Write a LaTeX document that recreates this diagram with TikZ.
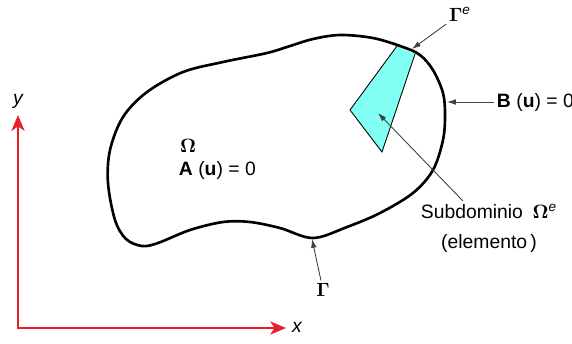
\documentclass[tikz,border=0pt]{standalone}
\usepackage[no-math]{fontspec}
\setmainfont{Liberation Sans}
\usetikzlibrary{arrows.meta}
\definecolor{axisred}{RGB}{232,32,44}
\definecolor{elemcyan}{RGB}{128,255,242}
\tikzset{
  lbl/.style = {font = \fontsize{11}{17}\selectfont, inner sep = 1.5pt},
  pointer/.style = {black!75, line width = 0.5pt, -{Latex[length = 5pt, width = 3.2pt]}},
  axis/.style = {axisred, line width = 1.1pt, {Stealth[length = 9pt, width = 7.5pt, inset = 2.5pt]}-{Stealth[length = 9pt, width = 7.5pt, inset = 2.5pt]}}
}
\begin{document}
\begin{tikzpicture} [x = 0.02cm, y = -0.02cm]
\useasboundingbox (0,0) rectangle (572,343);
%\draw [opacity = 0.2, gray, step = 50] (0,0) grid (572,343);
% element
\fill [elemcyan] (350,110) -- (397,46) -- (415,54) -- (382,152) -- cycle;
\draw [line width = 0.5pt] (397,46) -- (350,110) -- (382,152) -- (415,54);
% domain boundary
\draw [line width = 1.5pt] plot [smooth cycle, tension = 0.55] coordinates {
  (108,183) (110,150) (123,117) (147,92) (183,72) (223,62) (267,53) (290,46)
  (313,39) (340,35) (373,38) (403,47) (420,55) (433,70) (443,93) (445,115)
  (443,140) (433,170) (413,193) (380,213) (347,227) (313,238) (280,228)
  (250,222) (223,222) (190,230) (158,243) (142,246) (126,239) (115,220)};
% axes
\coordinate (O) at (18,328);
\coordinate (xend) at (286,328);
\coordinate (yend) at (18,115);
\draw [axis] (xend) -- (O) -- (yend);
\node [lbl] (xlab) at (297,327) {\itshape x};
\node [lbl] (ylab) at (18,101) {\itshape y};
% labels
\node [lbl] (omega) at (188,146) {$\mathbf{\Omega}$};
\node [lbl, anchor = west] (au) at (176,170) {\textbf{A} (\textbf{u}) = 0};
\node [lbl] (gammae) at (460,14) {$\mathbf{\Gamma}$\textsuperscript{\itshape e}};
\coordinate (pGe) at (412,49);
\draw [pointer] (gammae) -- (pGe);
\node [lbl, anchor = west] (bu) at (494,102) {\textbf{B} (\textbf{u}) = 0};
\coordinate (pB) at (447,102);
\draw [pointer] (bu) -- (pB);
\node [lbl, align = center] (sub) at (489,228) {Subdominio\hspace{0.5em}$\mathbf{\Omega}$\textsuperscript{\itshape e}\\(elemento\,)};
\coordinate (pSub) at (378,113);
\draw [pointer] (sub) -- (pSub);
\node [lbl] (gamma) at (323,290) {$\mathbf{\Gamma}$};
\coordinate (pG) at (312,239);
\draw [pointer] (gamma) -- (pG);
\end{tikzpicture}
\end{document}
